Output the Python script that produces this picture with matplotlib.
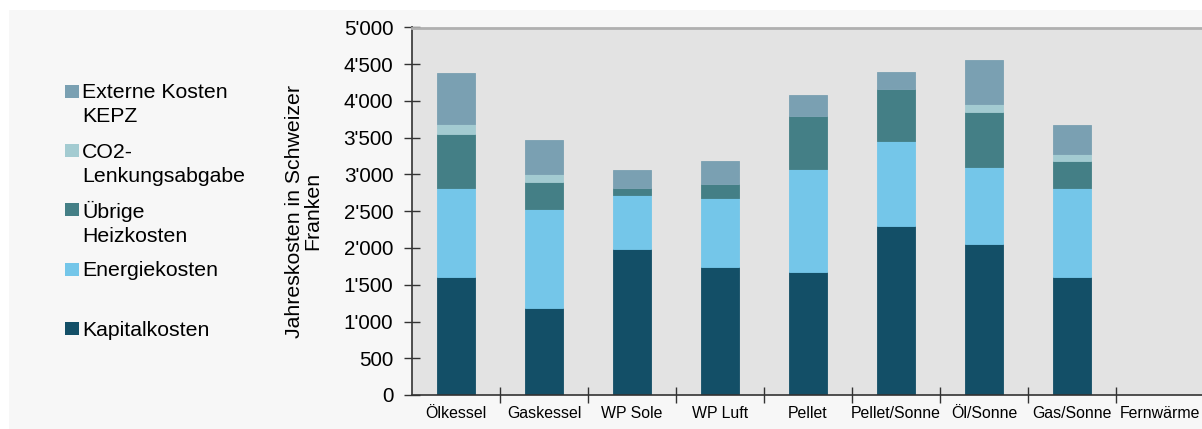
import matplotlib
matplotlib.use("Agg")
import matplotlib.pyplot as plt
from matplotlib.patches import Rectangle
from matplotlib.ticker import FuncFormatter
import numpy as np

plt.rcParams['font.family'] = ['Liberation Sans', 'DejaVu Sans']

categories = ["Ölkessel", "Gaskessel", "WP Sole", "WP Luft", "Pellet",
              "Pellet/Sonne", "Öl/Sonne", "Gas/Sonne", "Fernwärme"]

kapitalkosten = [1610, 1190, 1980, 1745, 1670, 2305, 2055, 1610, 0]
energiekosten = [1200, 1340, 740, 930, 1405, 1145, 1045, 1210, 0]
uebrige_heizkosten = [745, 368, 100, 200, 717, 714, 745, 368, 0]
co2_abgabe = [136, 104, 0, 0, 0, 0, 113, 91, 0]
externe_kosten = [690, 468, 245, 308, 295, 235, 595, 395, 0]

series_labels = ["Kapitalkosten", "Energiekosten", "Übrige\nHeizkosten",
                 "CO2-\nLenkungsabgabe", "Externe Kosten\nKEPZ"]
series_colors = ["#134f67", "#74c6e9", "#447f86", "#a3cbd1", "#7aa0b2"]
series_values = [kapitalkosten, energiekosten, uebrige_heizkosten,
                 co2_abgabe, externe_kosten]

W, H = 1202, 429
fig = plt.figure(figsize=(W / 100, H / 100), dpi=100, facecolor="white")

# light panel background
fig.patches.append(Rectangle((9 / W, 0), 1 - 9 / W, 1 - 10 / H,
                             transform=fig.transFigure, facecolor="#f7f7f7",
                             edgecolor="none", zorder=-10))

ax = fig.add_axes([412 / W, (H - 395) / H, 792 / W, 367.5 / H])
ax.set_facecolor("#e3e3e3")

x = np.arange(len(categories))
bottom = np.zeros(len(categories))
for vals, col, lab in zip(series_values, series_colors, series_labels):
    v = np.array(vals, dtype=float)
    ax.bar(x, v, width=0.43, bottom=bottom, color=col, label=lab,
           edgecolor=col, linewidth=0.6, zorder=2)
    bottom += v

ax.set_xlim(-0.5, len(categories) - 0.5)
ax.set_ylim(0, 5000)
ax.set_yticks(np.arange(0, 5001, 500))
ax.yaxis.set_major_formatter(FuncFormatter(lambda v, p: f"{int(v):,}".replace(",", "'")))
ax.tick_params(axis="y", direction="inout", length=11, width=1, labelsize=14.9,
               pad=8, color="#333333")

ax.set_xticks(x)
ax.set_xticklabels(categories, fontsize=11.4)
ax.set_xticks(np.arange(0.5, len(categories) - 0.5, 1), minor=True)
ax.tick_params(axis="x", which="major", length=0, pad=8)
ax.tick_params(axis="x", which="minor", direction="inout", length=11, width=1,
               color="#333333")

for s in ["left", "bottom"]:
    ax.spines[s].set_color("#333333")
    ax.spines[s].set_linewidth(1.2)
ax.spines["right"].set_visible(False)
ax.spines["top"].set_color("#b0b0b0")
ax.spines["top"].set_linewidth(2)

# y label
fig.text(303.5 / W, 1 - 211 / H, "Jahreskosten in Schweizer\nFranken",
         rotation=90, ha="center", va="center", multialignment="center",
         fontsize=15.3, linespacing=1.0)

# manual legend (top to bottom: reversed order of stacking)
leg_baselines = [98.5, 158.3, 217.5, 276.5, 336]
for i, (lab, col) in enumerate(zip(series_labels[::-1], series_colors[::-1])):
    yb = leg_baselines[i]
    fig.patches.append(Rectangle((65 / W, 1 - (yb - 1) / H), 13.5 / W, 13 / H,
                                 transform=fig.transFigure, facecolor=col,
                                 edgecolor="none"))
    for k, line in enumerate(lab.split("\n")):
        fig.text(82 / W, 1 - (yb + 24 * k) / H, line, ha="left", va="baseline",
                 fontsize=15.3)

fig.savefig("out.png", dpi=100, facecolor=fig.get_facecolor())
